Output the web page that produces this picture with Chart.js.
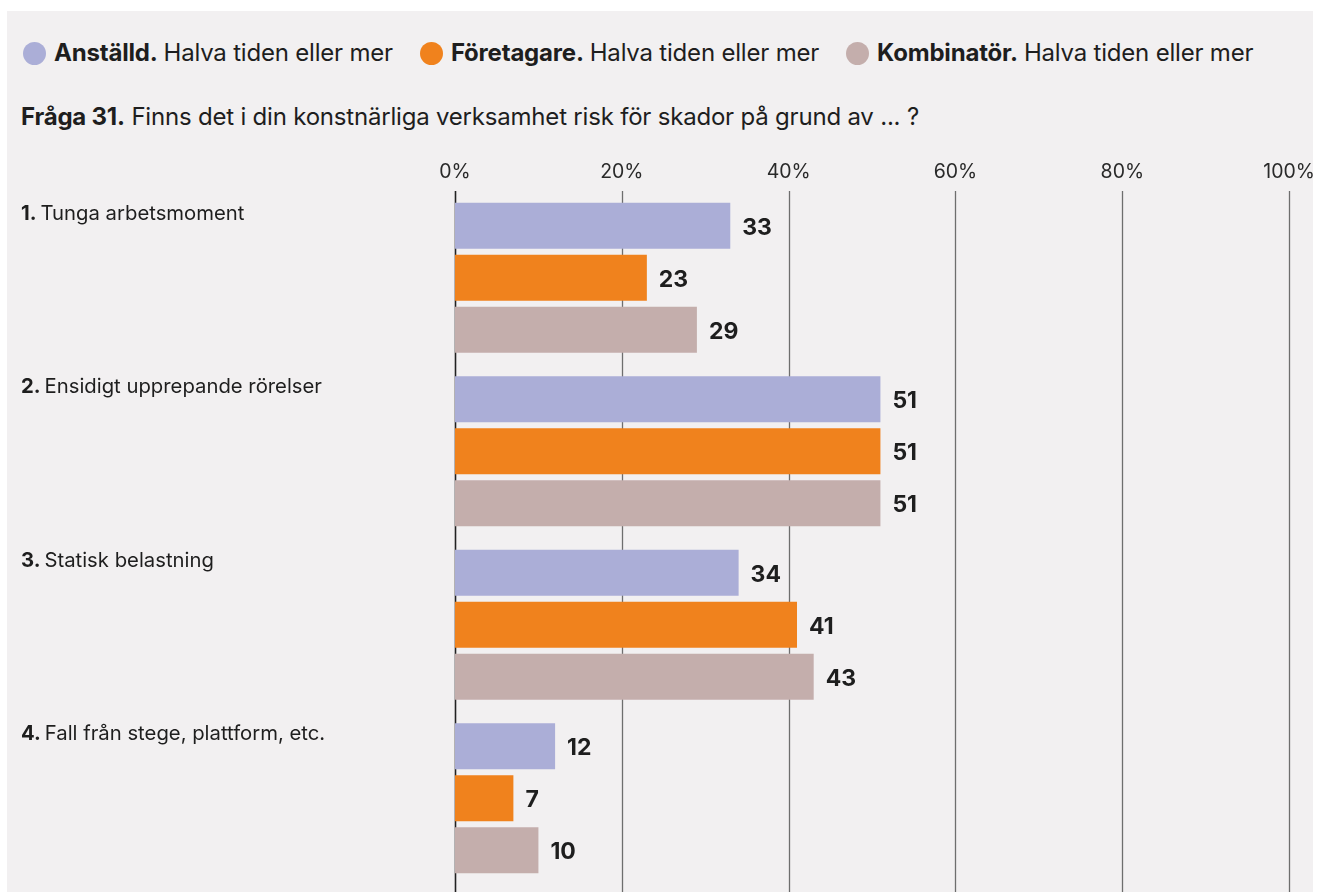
<!DOCTYPE html>
<html lang="sv">
<head>
<meta charset="utf-8">
<title>Fråga 31 – risk för skador</title>
<script src="https://cdn.jsdelivr.net/npm/chart.js@4/dist/chart.umd.min.js"></script>
<style>
  html, body { margin: 0; padding: 0; background: #ffffff; }
  body { width: 1322px; height: 892px; position: relative; overflow: hidden;
         font-family: Inter, "Noto Sans", sans-serif; color: #1e1e1e; }
  #panel { position: absolute; left: 7px; top: 11px; width: 1306px; height: 881px; background: #f2f0f1; }
  #legend { position: absolute; left: 23px; top: 38px; display: flex; font-size: 24px;
            letter-spacing: -0.2px; white-space: nowrap; line-height: 30px; }
  .item { display: flex; align-items: center; margin-right: 27px; }
  .dot { width: 23px; height: 23px; border-radius: 50%; margin-right: 8px; }
  .item b { font-weight: 700; margin-right: 6px; }
  #title { position: absolute; left: 21px; top: 102px; font-size: 24px; letter-spacing: -0.2px;
           white-space: nowrap; line-height: 30px; }
  #title b { font-weight: 700; }
  #wrap { position: absolute; left: 0; top: 0; width: 1322px; height: 892px; }
</style>
</head>
<body>
<div id="panel"></div>
<div id="legend"></div>
<div id="title"><b>Fråga 31.</b> Finns det i din konstnärliga verksamhet risk för skador på grund av ... ?</div>
<div id="wrap"><canvas id="chart"></canvas></div>
<script>
// Categories (question items) and their numbering
const itemNumbers = ['1.', '2.', '3.', '4.'];
const categories = ['Tunga arbetsmoment', 'Ensidigt upprepande rörelser', 'Statisk belastning', 'Fall från stege, plattform, etc.'];

// Series names and their values (percent)
const seriesNames = ['Anställd.', 'Företagare.', 'Kombinatör.'];
const seriesSuffix = 'Halva tiden eller mer';
const anstalld   = [33, 51, 34, 12];
const foretagare = [23, 51, 41, 7];
const kombinator = [29, 51, 43, 10];

// Axis ticks
const tickValues = [0, 20, 40, 60, 80, 100];

const colors = ['#abaed7', '#f0821d', '#c4aeac'];
const seriesValues = [anstalld, foretagare, kombinator];
const FONT = 'Inter, "Noto Sans", sans-serif';

// HTML legend built from the series
const legendEl = document.getElementById('legend');
seriesNames.forEach((name, i) => {
  const it = document.createElement('div');
  it.className = 'item';
  it.innerHTML = '<span class="dot" style="background:' + colors[i] + '"></span><b>' + name + '</b>' + seriesSuffix;
  legendEl.appendChild(it);
});

// Vertical grid lines, running past the plot area to the bottom of the canvas
const gridPlugin = {
  id: 'fullGrid',
  beforeDatasetsDraw(chart) {
    const { ctx, chartArea, scales } = chart;
    ctx.save();
    tickValues.forEach(v => {
      const x = Math.round(scales.x.getPixelForValue(v)) + 0.5;
      ctx.beginPath();
      ctx.strokeStyle = v === 0 ? '#222222' : '#6e6e6e';
      ctx.lineWidth = v === 0 ? 1.6 : 1.3;
      ctx.moveTo(x, chartArea.top);
      ctx.lineTo(x, chart.height);
      ctx.stroke();
    });
    ctx.restore();
  }
};

// Category labels placed at the top-left of each group
const categoryLabelPlugin = {
  id: 'categoryLabels',
  afterDraw(chart) {
    const { ctx, scales } = chart;
    ctx.save();
    ctx.textBaseline = 'middle';
    ctx.fillStyle = '#1e1e1e';
    categories.forEach((c, i) => {
      const y = scales.y.getPixelForValue(i) - 64;
      ctx.font = '700 20.3px ' + FONT;
      ctx.fillText(itemNumbers[i], 21, y);
      const w = ctx.measureText(itemNumbers[i]).width;
      ctx.font = '400 20.3px ' + FONT;
      ctx.fillText(c, 21 + w + 4, y);
    });
    ctx.restore();
  }
};

// Bold value labels to the right of each bar
const valueLabelPlugin = {
  id: 'valueLabels',
  afterDatasetsDraw(chart) {
    const { ctx } = chart;
    ctx.save();
    ctx.font = '700 23px ' + FONT;
    ctx.fillStyle = '#1e1e1e';
    ctx.textBaseline = 'middle';
    chart.data.datasets.forEach((ds, di) => {
      chart.getDatasetMeta(di).data.forEach((bar, i) => {
        ctx.fillText(String(ds.data[i]), bar.x + 12, bar.y + 2);
      });
    });
    ctx.restore();
  }
};

new Chart(document.getElementById('chart'), {
  type: 'bar',
  data: {
    labels: categories,
    datasets: seriesNames.map((n, i) => ({
      label: n,
      data: seriesValues[i],
      backgroundColor: colors[i],
      borderWidth: 0,
      categoryPercentage: 0.9,
      barPercentage: 0.885
    }))
  },
  options: {
    indexAxis: 'y',
    responsive: true,
    maintainAspectRatio: false,
    animation: false,
    layout: { padding: { left: 455, right: 30, top: 0, bottom: 7 } },
    plugins: { legend: { display: false }, tooltip: { enabled: false } },
    scales: {
      x: {
        position: 'top',
        min: 0, max: 100,
        afterBuildTicks: s => { s.ticks = tickValues.map(v => ({ value: v })); },
        afterFit: s => { s.height = 191; },
        grid: { display: false, drawTicks: false },
        border: { display: false },
        ticks: {
          callback: v => v + '%',
          color: '#2a2a2a',
          font: { family: FONT, size: 19.5 },
          padding: 7,
          maxRotation: 0
        }
      },
      y: {
        display: false
      }
    }
  },
  plugins: [gridPlugin, categoryLabelPlugin, valueLabelPlugin]
});
</script>
</body>
</html>
